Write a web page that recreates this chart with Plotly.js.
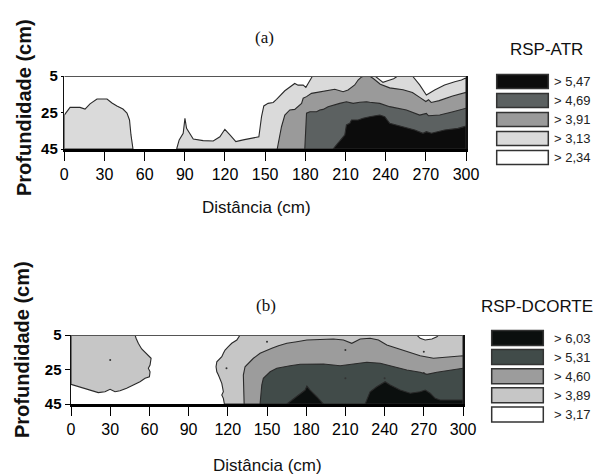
<!DOCTYPE html>
<html><head><meta charset="utf-8">
<script src="https://cdn.plot.ly/plotly-3.0.1.min.js"></script>
<style>html,body{margin:0;padding:0;background:#fff;}#chart{width:595px;height:476px;}</style>
</head><body><div id="chart"></div>
<script>
// ---------- DATA ----------
const distTicks = [0, 30, 60, 90, 120, 150, 180, 210, 240, 270, 300];
const depthTicks = [5, 25, 45];

// (a) RSP-ATR class boundaries: distance (cm) / depth (cm)
const aLight1X = [0, 4.3, 11.7, 15.5, 19.2, 24.4, 31.9, 35.6, 39.3, 43.8, 46.8, 48.7, 49.8, 51.3];
const aLight1D = [26.4, 22.2, 22.2, 23.1, 20.3, 17.6, 17.6, 19.8, 21.4, 23.1, 25.3, 29.1, 37.3, 45];
const aLight2X = [83.9, 85.8, 88.8, 89.6, 90.1, 91.3, 93.5, 95.1, 96.3, 103.7, 111.2, 116.2, 119.9, 123.7, 128.1, 133.6, 141, 145.3, 147.3, 149, 152.2, 156, 158.5, 164.7, 172.1, 174.6, 178.4, 180.4, 182.1, 185.4, 232, 238, 242, 246, 249, 260, 265.4, 270.4, 276.6, 284, 291.6, 296.6, 300];
const aLight2D = [45, 40, 36.4, 31, 28.2, 33.7, 36.5, 38.3, 39.5, 40.4, 40.6, 38.3, 34.2, 37.3, 40.9, 40, 39.1, 38.3, 27.3, 21.4, 20, 19.5, 17.8, 13.1, 9.1, 10, 10, 11.2, 9.1, 5, 5, 8.5, 7.5, 6.5, 5, 5, 9.9, 15.4, 12.7, 9.9, 8.1, 7.2, 6];
const aMedX = [159, 162.2, 164.7, 168.4, 172.1, 177.2, 178.4, 180.9, 184.6, 190.8, 198.3, 202, 208.2, 211.9, 216.9, 219.4, 222, 224, 228, 231, 236, 243, 253, 260, 266, 270, 272, 274, 280, 290, 300];
const aMedD = [45, 32.8, 26.4, 23.6, 23.3, 20, 17.2, 16.3, 14.5, 13.6, 12.7, 12.3, 13.6, 12.7, 9.9, 7.2, 5.5, 5, 5, 6.5, 9.5, 11.5, 12.5, 14, 17, 19, 18, 19.5, 18.5, 16, 14];
const aDarkX = [179.6, 180.9, 183.4, 188.4, 190.8, 193.3, 197, 200.7, 205.7, 210.7, 215.7, 220.7, 225.7, 228.1, 235.6, 243, 255.5, 265.4, 270.4, 272, 280.4, 290.3, 300];
const aDarkD = [45, 25.4, 24.6, 24.6, 23.6, 23.3, 21.8, 20.9, 20, 19.1, 20, 19.4, 19.1, 19.4, 20, 21.8, 23.6, 26.4, 25.5, 26.8, 26.4, 24.6, 22.7];
const aBlackX = [200.7, 207, 209.5, 210.7, 213.2, 214.5, 219.4, 223.1, 228.1, 235.6, 239.3, 243, 251.8, 261.7, 267.9, 270.4, 274.2, 284.1, 294, 300];
const aBlackD = [45, 39.1, 37.3, 31.8, 30.9, 29.1, 29.1, 28.2, 27.3, 26.4, 27.3, 30.9, 32.8, 34.6, 36.4, 35.5, 36.4, 34.6, 33.7, 32.5];

// (b) RSP-DCORTE class boundaries
const bLight1X = [0, 49, 49.8, 51.5, 54.1, 56.7, 59.2, 61.3, 60.5, 59.2, 60.5, 60, 56.7, 52.8, 47.7, 42.6, 37.5, 33.7, 29.9, 26, 20.9, 14.5, 6.9, 0];
const bLight1D = [5, 5, 6.9, 9.8, 13.1, 15, 16.6, 18.5, 22.4, 24.3, 26.3, 29.2, 30.1, 32.1, 34, 35.9, 37.3, 37.9, 36.5, 37.9, 38.4, 36.9, 35, 33.6];
const bLight2X = [117.4, 116.6, 115.4, 116.6, 115.4, 114.1, 112.8, 111.6, 111, 111.6, 114.1, 115.4, 116.6, 117.9, 120.4, 123, 126.9, 129.4, 264.7, 267.2, 271, 276.2, 280, 281.3, 300];
const bLight2D = [45, 41.7, 39.8, 37.9, 33, 30.1, 28.2, 26.3, 23.4, 20.5, 18.5, 17.6, 15.6, 13.7, 11.8, 9.8, 7.9, 5, 5, 6.9, 7.9, 7.3, 6, 5, 5];
const bMedX = [132.5, 131.9, 133.2, 135.8, 139.6, 144.7, 149.8, 153.7, 158.8, 165.2, 172.8, 180.5, 190.7, 200.8, 208.5, 214.9, 221.3, 228.9, 235.3, 241.7, 249.4, 257, 267.2, 277.4, 287.7, 300];
const bMedD = [45, 28.2, 23.4, 21.4, 18.5, 15.6, 13.7, 12.7, 11.2, 9.8, 8.9, 7.9, 7.6, 7.3, 7.9, 9.8, 7.3, 6.9, 7.9, 10.8, 12.7, 14.7, 17, 18.5, 17.9, 17];
const bDarkX = [144.7, 146, 147.2, 149.8, 152.4, 157.5, 162.6, 167.7, 175.4, 183, 193.2, 206, 213.6, 226.4, 236.6, 246.8, 257, 267.2, 272.4, 280, 290.2, 300];
const bDarkD = [45, 34, 30.1, 28.2, 26.3, 24.3, 23.4, 22.8, 22, 21.8, 21.8, 22.8, 22, 20.8, 21.4, 23.4, 25.3, 26.6, 27.8, 26.6, 25.3, 24.3];
const bBlack1X = [165.2, 172.8, 179.2, 180.5, 183, 188.1, 193.2];
const bBlack1D = [45, 40.8, 36.9, 34.6, 36.9, 40.8, 45];
const bBlack2X = [225.1, 228.9, 234, 240.4, 244.3, 251.9, 259.6, 267.2, 271.1, 274.9, 278.7, 282.5, 300];
const bBlack2D = [45, 37.9, 35, 32.1, 34, 36.9, 38.8, 37.9, 36.9, 38.8, 41.7, 42.7, 42.7];
// sampling points visible as dots in (b)
const bDotsX = [30, 119, 150, 210, 210, 240, 270, 270];
const bDotsD = [19.5, 24.3, 8.9, 13.7, 30.1, 30.1, 14.7, 27];

// legend class labels
const aLevels = ['> 5,47', '> 4,69', '> 3,91', '> 3,13', '> 2,34'];
const bLevels = ['> 6,03', '> 5,31', '> 4,60', '> 3,89', '> 3,17'];

// ---------- STYLE ----------
const aColors = ['#0c0c0c', '#5c6161', '#9a9a9a', '#dadada', '#ffffff'];
const bColors = ['#0b0f0e', '#414b49', '#9c9c9c', '#c6c6c6', '#ffffff'];
const edge = '#2a2a2a';
const W = 595, H = 476;
const BOTTOM = 45;

function poly(xs, ds, color, xa, ya, closeBottom) {
  let x = xs.slice(), y = ds.slice();
  if (closeBottom) { x.push(xs[xs.length - 1], xs[0]); y.push(BOTTOM, BOTTOM); }
  x.push(x[0]); y.push(y[0]);
  return {type: 'scatter', mode: 'lines', x: x, y: y, fill: 'toself', fillcolor: color,
          line: {color: edge, width: 1.1}, xaxis: xa, yaxis: ya, hoverinfo: 'skip', showlegend: false};
}

const traces = [
  poly(aLight1X, aLight1D, aColors[3], 'x', 'y', true),
  poly(aLight2X, aLight2D, aColors[3], 'x', 'y', true),
  poly(aMedX, aMedD, aColors[2], 'x', 'y', true),
  poly(aDarkX, aDarkD, aColors[1], 'x', 'y', true),
  poly(aBlackX, aBlackD, aColors[0], 'x', 'y', true),
  poly(bLight1X, bLight1D, bColors[3], 'x2', 'y2', false),
  poly(bLight2X, bLight2D, bColors[3], 'x2', 'y2', true),
  poly(bMedX, bMedD, bColors[2], 'x2', 'y2', true),
  poly(bDarkX, bDarkD, bColors[1], 'x2', 'y2', true),
  poly(bBlack1X, bBlack1D, bColors[0], 'x2', 'y2', true),
  poly(bBlack2X, bBlack2D, bColors[0], 'x2', 'y2', true),
  {type: 'scatter', mode: 'markers', x: bDotsX, y: bDotsD, xaxis: 'x2', yaxis: 'y2',
   marker: {size: 2, color: '#333'}, hoverinfo: 'skip', showlegend: false}
];

const font = 'Liberation Sans, Arial, sans-serif';
function xAx(domain, anchor) {
  return {domain: domain, anchor: anchor, range: [0, 300], tickvals: distTicks, ticktext: distTicks.map(String),
    ticks: 'outside', ticklen: 9, tickwidth: 1, tickcolor: '#000', showline: true, linewidth: 3, linecolor: '#000',
    showgrid: false, zeroline: false, tickfont: {family: font, size: 16, color: '#000'}, automargin: false, fixedrange: true};
}
function yAx(domain, anchor, tl) {
  return {domain: domain, anchor: anchor, range: [BOTTOM, 5], tickvals: depthTicks, ticktext: depthTicks.map(String),
    ticks: 'outside', ticklen: tl, tickwidth: 1, tickcolor: '#000', showline: true, linewidth: 1.5, linecolor: '#111', mirror: true,
    showgrid: false, zeroline: false, tickfont: {family: font, size: 15, color: '#000', weight: 'bold'}, automargin: false, fixedrange: true};
}

const shapes = [
  {type: 'line', xref: 'x', yref: 'y', x0: 0, x1: 300, y0: 5, y1: 5, line: {color: '#555', width: 2}},
  {type: 'line', xref: 'x2', yref: 'y2', x0: 0, x1: 300, y0: 5, y1: 5, line: {color: '#555', width: 2}}
];
const annotations = [];
function txt(text, px, py, size, opts) {
  annotations.push(Object.assign({text: text, xref: 'paper', yref: 'paper', x: px / W, y: 1 - py / H,
    xanchor: 'center', yanchor: 'middle', showarrow: false, font: {family: font, size: size, color: '#111'}}, opts || {}));
}
function legendBlock(levels, colors, x0, x1, yTop, step, hgt, labelX) {
  levels.forEach(function (lab, i) {
    const yc = yTop + i * step;
    shapes.push({type: 'rect', xref: 'paper', yref: 'paper', x0: x0 / W, x1: x1 / W,
      y0: 1 - (yc + hgt / 2) / H, y1: 1 - (yc - hgt / 2) / H, fillcolor: colors[i], line: {color: '#333', width: 1.5}});
    txt(lab, labelX, yc, 13, {xanchor: 'left', font: {family: font, size: 13, color: '#222'}});
  });
}
legendBlock(aLevels, aColors, 496.7, 548.3, 81.5, 19, 14, 552);
legendBlock(bLevels, bColors, 491.7, 543.3, 338, 19.1, 15, 552);

const serif = {family: 'Liberation Serif, Times New Roman, serif', size: 17, color: '#111'};
txt('(a)', 264, 38, 17, {font: serif});
txt('(b)', 266, 305, 17, {font: serif});
txt('RSP-ATR', 546, 50, 17);
txt('RSP-DCORTE', 537, 306, 17);
txt('Distância (cm)', 256, 207, 17);
txt('Distância (cm)', 267, 465, 17);
txt('Profundidade (cm)', 24, 108, 20, {textangle: -90, font: {family: font, size: 20, color: '#111', weight: 'bold'}});
txt('Profundidade (cm)', 22, 350, 20, {textangle: -90, font: {family: font, size: 20, color: '#111', weight: 'bold'}});

const layout = {
  width: W, height: H, margin: {l: 0, r: 0, t: 0, b: 0},
  paper_bgcolor: '#ffffff', plot_bgcolor: '#ffffff', showlegend: false,
  xaxis: xAx([64.3 / W, 466 / W], 'y'),
  yaxis: yAx([1 - 149 / H, 1 - 76 / H], 'x', 2),
  xaxis2: xAx([71 / W, 463 / W], 'y2'),
  yaxis2: yAx([1 - 404 / H, 1 - 335 / H], 'x2', 5),
  shapes: shapes, annotations: annotations
};
Plotly.newPlot('chart', traces, layout, {staticPlot: true, displayModeBar: false});
</script></body></html>
